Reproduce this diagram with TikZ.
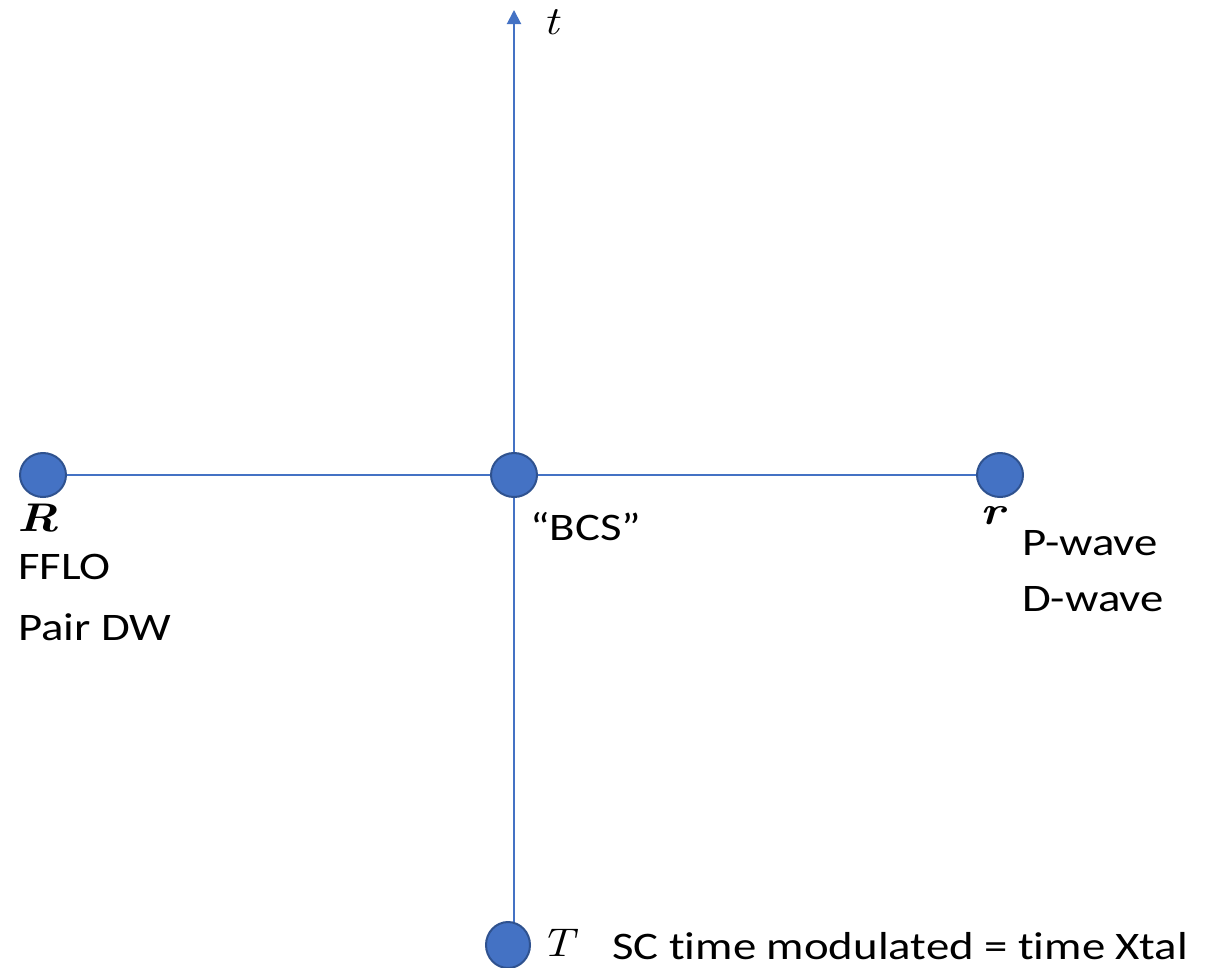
\documentclass[tikz,border=0pt]{standalone}
\usepackage{fontspec}
\setmainfont[Ligatures=NoCommon]{Carlito}
\newfontfamily\mathish{Latin Modern Roman}
\usetikzlibrary{arrows.meta,shapes.geometric}
\definecolor{axisblue}{HTML}{4472C4}
\definecolor{rimblue}{HTML}{2F528F}
\newcommand{\wide}[1]{\scalebox{1.2}[1]{#1}}
\tikzset{
  axis/.style={draw=axisblue, line width=2pt},
  dot/.style={ellipse, draw=rimblue, line width=2pt, fill=axisblue, minimum width=46pt, minimum height=44pt, inner sep=0pt},
  lbl/.style={anchor=west, inner sep=0pt, font=\fontsize{39}{46}\selectfont},
  mlbl/.style={inner sep=0pt, font=\fontsize{40}{46}\selectfont\mathish\itshape}
}
\begin{document}
\begin{tikzpicture}[x=1pt,y=-1pt]
\useasboundingbox (0,0) rectangle (1209,967);
\coordinate (top) at (514,10);
\draw[axis, -{Triangle[length=14pt,width=14pt]}] (514,930) -- (top);
\draw[axis] (43,475) -- (1000,475);
\node[dot] (R) at (43,475) {};
\node[dot] (B) at (514,475) {};
\node[dot] (r) at (1000,475) {};
\node[dot, minimum width=44pt, minimum height=46pt] (T) at (508,945) {};
\node[mlbl] (tl) at (551,22) {\wide{t}};
\node[mlbl] (Rl) at (38,518) {\wide{\bfseries R}};
\node[mlbl] (rl) at (993,516) {\wide{\bfseries r}};
\node[mlbl] (Tl) at (557,943) {\wide{T}};
\node[lbl] (f1) at (18,567) {\wide{FFLO}};
\node[lbl] (f2) at (18,627) {\wide{Pair DW}};
\node[lbl] (b) at (530,527) {\wide{“BCS”}};
\node[lbl] (p) at (1022,543) {\wide{P-wave}};
\node[lbl] (d) at (1022,599) {\wide{D-wave}};
\node[lbl] (sc) at (612,946) {\wide{SC time modulated = time Xtal}};
\end{tikzpicture}
\end{document}
